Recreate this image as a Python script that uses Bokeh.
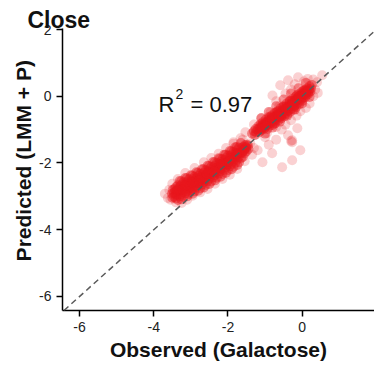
import math
from bokeh.plotting import figure
from bokeh.models import Range1d, FixedTicker, Label, Slope
from bokeh.embed import file_html
from bokeh.resources import INLINE

# ---------------- data ----------------
title_text = "Close"
x_label = "Observed (Galactose)"
y_label = "Predicted (LMM + P)"
r2_value = "0.97"
x_ticks = [-6, -4, -2, 0, 2]
y_ticks = [-6, -4, -2, 0, 2]
tick_text = {-6: "-6", -4: "-4", -2: "-2", 0: "0", 2: "2"}

# lower cluster (observed, predicted)
low_cluster = [
    (-3.50,-3.04),(-3.51,-2.92),(-3.49,-2.81),(-3.45,-3.02),(-3.46,-2.90),(-3.44,-2.78),
    (-3.40,-3.06),(-3.41,-2.94),(-3.39,-2.84),(-3.40,-2.72),
    (-3.35,-3.11),(-3.36,-2.95),(-3.34,-2.81),(-3.35,-2.67),
    (-3.30,-3.00),(-3.31,-2.84),(-3.29,-2.70),(-3.30,-2.54),
    (-3.25,-3.09),(-3.26,-2.93),(-3.24,-2.79),(-3.25,-2.65),(-3.26,-2.55),
    (-3.20,-3.02),(-3.21,-2.86),(-3.19,-2.72),(-3.20,-2.58),
    (-3.15,-2.91),(-3.16,-2.75),(-3.14,-2.61),(-3.15,-2.45),
    (-3.10,-3.00),(-3.11,-2.84),(-3.09,-2.70),(-3.10,-2.56),(-3.11,-2.46),
    (-3.05,-2.93),(-3.06,-2.77),(-3.04,-2.63),(-3.05,-2.49),
    (-3.00,-2.83),(-3.01,-2.67),(-2.99,-2.53),(-3.00,-2.37),
    (-2.95,-2.92),(-2.96,-2.76),(-2.94,-2.62),(-2.95,-2.48),(-2.96,-2.38),
    (-2.90,-2.85),(-2.91,-2.69),(-2.89,-2.55),(-2.90,-2.41),
    (-2.85,-2.74),(-2.86,-2.58),(-2.84,-2.44),(-2.85,-2.28),
    (-2.80,-2.83),(-2.81,-2.67),(-2.79,-2.53),(-2.80,-2.39),(-2.81,-2.29),
    (-2.75,-2.76),(-2.76,-2.60),(-2.74,-2.46),(-2.75,-2.32),
    (-2.70,-2.65),(-2.71,-2.49),(-2.69,-2.35),(-2.70,-2.19),
    (-2.65,-2.73),(-2.66,-2.57),(-2.64,-2.43),(-2.65,-2.29),(-2.66,-2.19),
    (-2.60,-2.66),(-2.61,-2.50),(-2.59,-2.36),(-2.60,-2.22),
    (-2.55,-2.54),(-2.56,-2.38),(-2.54,-2.24),(-2.55,-2.08),
    (-2.50,-2.63),(-2.51,-2.47),(-2.49,-2.33),(-2.50,-2.19),(-2.51,-2.09),
    (-2.45,-2.55),(-2.46,-2.39),(-2.44,-2.25),(-2.45,-2.11),
    (-2.40,-2.43),(-2.41,-2.27),(-2.39,-2.13),(-2.40,-1.97),
    (-2.35,-2.52),(-2.36,-2.36),(-2.34,-2.22),(-2.35,-2.08),(-2.36,-1.98),
    (-2.30,-2.44),(-2.31,-2.28),(-2.29,-2.14),(-2.30,-2.00),
    (-2.25,-2.32),(-2.26,-2.16),(-2.24,-2.02),(-2.25,-1.86),
    (-2.20,-2.41),(-2.21,-2.25),(-2.19,-2.11),(-2.20,-1.97),(-2.21,-1.87),
    (-2.15,-2.33),(-2.16,-2.17),(-2.14,-2.03),(-2.15,-1.89),
    (-2.10,-2.21),(-2.11,-2.05),(-2.09,-1.91),(-2.10,-1.75),
    (-2.05,-2.29),(-2.06,-2.13),(-2.04,-1.99),(-2.05,-1.85),(-2.06,-1.75),
    (-2.00,-2.22),(-2.01,-2.06),(-1.99,-1.92),(-2.00,-1.78),
    (-1.95,-2.10),(-1.96,-1.94),(-1.94,-1.80),(-1.95,-1.64),
    (-1.90,-2.19),(-1.91,-2.03),(-1.89,-1.89),(-1.90,-1.75),(-1.91,-1.65),
    (-1.85,-2.11),(-1.86,-1.95),(-1.84,-1.81),(-1.85,-1.67),
    (-1.80,-1.99),(-1.81,-1.83),(-1.79,-1.69),(-1.80,-1.53),
    (-1.75,-2.06),(-1.76,-1.90),(-1.74,-1.76),(-1.75,-1.62),(-1.76,-1.52),
    (-1.70,-1.98),(-1.71,-1.82),(-1.69,-1.68),(-1.70,-1.54),
    (-1.65,-1.86),(-1.66,-1.70),(-1.64,-1.56),(-1.65,-1.40),
    (-1.60,-1.82),(-1.61,-1.66),(-1.59,-1.52),(-1.55,-1.71),(-1.56,-1.59),(-1.54,-1.47),
    (-1.50,-1.65),(-1.51,-1.55),(-1.49,-1.45),(-1.45,-1.58),(-1.46,-1.48),
    (-3.42,-2.86),(-3.32,-2.78),(-3.22,-2.80),(-3.12,-2.66),(-3.02,-2.70),(-2.92,-2.56),
    (-2.82,-2.60),(-2.72,-2.44),(-2.62,-2.46),(-2.52,-2.28),(-2.42,-2.31),(-2.32,-2.15),
    (-2.22,-2.17),(-2.12,-2.00),(-2.02,-2.02),(-1.92,-1.86),(-1.82,-1.88),(-1.72,-1.70),
    (-1.62,-1.70),(-1.52,-1.52),(-3.37,-2.80),(-3.17,-2.68),(-2.97,-2.58),(-2.77,-2.52),
    (-2.57,-2.32),(-2.37,-2.26),(-2.17,-2.04),(-1.97,-1.96),(-1.77,-1.74),(-1.57,-1.62),
]

# upper cluster (observed, predicted)
high_cluster = [
    (-1.35,-1.12),(-1.30,-1.05),(-1.28,-1.16),(-1.25,-0.98),(-1.24,-1.08),
    (-1.20,-1.00),(-1.18,-0.90),(-1.16,-1.08),(-1.14,-0.94),(-1.12,-0.84),(-1.10,-1.02),
    (-1.08,-0.88),(-1.06,-0.78),(-1.04,-0.98),(-1.02,-0.82),(-1.00,-0.94),(-0.98,-0.70),
    (-0.96,-0.86),(-0.94,-0.98),(-0.92,-0.74),(-0.90,-0.62),(-0.88,-0.88),(-0.86,-0.70),
    (-0.84,-0.80),(-0.82,-0.58),(-0.80,-0.86),(-0.78,-0.64),(-0.76,-0.74),(-0.74,-0.50),
    (-0.72,-0.80),(-0.70,-0.58),(-0.68,-0.68),(-0.66,-0.44),(-0.64,-0.72),(-0.62,-0.52),
    (-0.60,-0.62),(-0.58,-0.36),(-0.56,-0.66),(-0.54,-0.46),(-0.52,-0.56),(-0.50,-0.30),
    (-0.48,-0.60),(-0.46,-0.40),(-0.44,-0.50),(-0.42,-0.22),(-0.40,-0.54),(-0.38,-0.32),
    (-0.36,-0.42),(-0.34,-0.16),(-0.32,-0.46),(-0.30,-0.26),(-0.28,-0.36),(-0.26,-0.08),
    (-0.24,-0.40),(-0.22,-0.18),(-0.20,-0.28),(-0.18,-0.02),(-0.16,-0.32),(-0.14,-0.12),
    (-0.12,-0.20),(-0.10,0.06),(-0.08,-0.24),(-0.06,-0.04),(-0.04,-0.12),(-0.02,0.12),
    (0.00,-0.14),(0.02,0.04),(0.04,-0.04),(0.06,0.18),(0.08,-0.04),(0.10,0.10),
    (0.12,0.04),(0.14,0.24),(0.16,0.06),(0.18,0.18),(0.20,0.30),(0.22,0.14),
    (0.24,0.24),(0.26,0.34),
    (-1.13,-0.98),(-1.07,-0.92),(-1.01,-0.88),(-0.95,-0.80),(-0.89,-0.76),(-0.83,-0.70),
    (-0.77,-0.66),(-0.71,-0.62),(-0.65,-0.54),(-0.59,-0.50),(-0.53,-0.42),(-0.47,-0.38),
    (-0.41,-0.34),(-0.35,-0.26),(-0.29,-0.22),(-0.23,-0.14),(-0.17,-0.10),(-0.11,-0.04),
    (-0.05,0.02),(0.01,0.08),(0.07,0.12),(0.13,0.16),(0.19,0.22),(-1.05,-0.86),
    (-0.97,-0.78),(-0.91,-0.84),(-0.85,-0.74),(-0.79,-0.72),(-0.73,-0.66),(-0.67,-0.58),
    (-0.61,-0.56),(-0.55,-0.52),(-0.49,-0.44),(-0.43,-0.40),(-0.37,-0.34),(-0.31,-0.30),
    (-0.25,-0.20),(-0.19,-0.18),(-0.13,-0.08),(-0.07,-0.06),(-0.01,0.00),(0.05,0.06),
    (0.11,0.14),(0.17,0.12),(-0.87,-0.64),(-0.69,-0.48),(-0.51,-0.32),(-0.33,-0.14),
    (-0.15,0.02),(0.03,0.16),(-0.75,-0.82),(-0.57,-0.60),(-0.39,-0.44),(-0.21,-0.30),
    (-0.03,-0.08),
    (-1.10,-0.66),(-0.90,-0.47),(-0.70,-0.30),(-0.50,-0.10),(-0.30,0.08),(-0.10,0.24),
    (0.10,0.40),
    (-1.00,-1.12),(-0.80,-0.94),(-0.60,-0.76),(-0.40,-0.58),(-0.20,-0.40),(0.00,-0.22),
    (0.20,-0.02),
    (-1.09,-0.96),(-0.93,-0.80),(-0.81,-0.64),(-0.63,-0.46),(-0.45,-0.32),(-0.27,-0.14),
    (-0.09,0.00),(0.09,0.18),(-0.99,-0.90),(-0.63,-0.60),(-0.27,-0.28),(0.09,0.06),
]

# sparse points around the clusters (observed, predicted)
sparse_points = [
    (-3.70,-2.92),(-3.62,-3.05),(-3.58,-2.80),(-3.55,-3.10),(-3.40,-3.18),(-3.50,-2.62),
    (-3.25,-3.20),(-3.10,-3.10),(-3.35,-2.48),(-2.95,-2.98),(-3.15,-2.30),(-2.75,-2.88),
    (-2.90,-2.15),(-2.55,-2.78),(-2.65,-1.98),(-2.35,-2.62),(-2.45,-1.85),(-2.15,-2.48),
    (-2.25,-1.72),(-1.95,-2.35),(-2.05,-1.55),(-1.75,-2.18),(-1.85,-1.42),(-1.55,-1.95),
    (-1.60,-1.30),(-1.35,-1.75),(-1.66,-1.26),(-1.53,-1.08),(-1.40,-1.41),(-1.85,-1.38),
    (-1.30,-1.55),(-1.20,-1.62),(-1.07,-1.98),(-0.81,-1.71),(-0.54,-2.13),(-0.27,-1.92),
    (-0.05,-1.62),(-0.27,-1.32),(-0.27,-1.38),(-0.30,-1.34),(-0.38,-1.17),(-0.13,-0.96),
    (-1.00,-1.23),(-0.90,-1.45),(-0.70,-1.30),
    (-1.30,-0.85),(-1.25,-1.15),(-1.10,-0.65),(-0.95,-1.10),(-0.85,-0.48),(-0.70,-0.92),
    (-0.62,-0.30),(-0.59,0.33),(-0.38,0.48),(-0.11,0.57),(-0.45,0.08),(-0.30,0.20),
    (-0.20,0.36),(0.05,0.45),(0.30,0.50),(0.40,0.42),(0.54,0.63),(0.35,0.20),
    (0.42,0.10),(0.30,0.00),(0.20,-0.22),(0.10,-0.35),(-0.05,-0.45),(-0.15,-0.58),
    (-0.30,-0.72),(-0.45,-0.85),(-0.55,-1.00),(-0.80,0.02),(-0.70,-0.15),(0.15,0.52),
]

core_points = low_cluster + high_cluster
core_obs = [p[0] for p in core_points]
core_pred = [p[1] for p in core_points]
sparse_obs = [p[0] for p in sparse_points]
sparse_pred = [p[1] for p in sparse_points]

# ---------------- figure ----------------
FONT = "Liberation Sans"
p = figure(width=374, height=367, output_backend="svg", toolbar_location=None,
           x_range=Range1d(-6.46, 1.95), y_range=Range1d(-6.42, 2.03),
           min_border_left=62, min_border_right=0, min_border_top=28, min_border_bottom=57)
p.outline_line_color = None
p.background_fill_color = "white"
p.border_fill_color = "white"
p.xgrid.visible = False
p.ygrid.visible = False

p.title.text = title_text
p.title.align = "left"
p.title.offset = -35
p.title.standoff = -8
p.title.text_font = FONT
p.title.text_font_style = "bold"
p.title.text_font_size = "23px"
p.title.text_color = "#111111"

RED = "#e8171c"
p.scatter(x=sparse_obs, y=sparse_pred, size=10, fill_color=RED, fill_alpha=0.2,
          line_color=None)
p.scatter(x=core_obs, y=core_pred, size=10, fill_color=RED, fill_alpha=0.45,
          line_color=None)

p.add_layout(Slope(gradient=1, y_intercept=0, line_color="#5a5a5a", line_width=1.5,
                   line_dash="6 4"))

for ax, ticks in ((p.xaxis[0], x_ticks), (p.yaxis[0], y_ticks)):
    ax.ticker = FixedTicker(ticks=ticks)
    ax.major_label_overrides = tick_text
    ax.minor_tick_line_color = None
    ax.major_tick_in = 0
    ax.major_tick_out = 6
    ax.axis_line_width = 1.5
    ax.major_tick_line_width = 1.5
    ax.axis_line_color = "black"
    ax.major_tick_line_color = "black"
    ax.major_label_text_font = FONT
    ax.major_label_text_font_size = "14px"
    ax.major_label_text_color = "#222222"
    ax.major_label_standoff = 5
    ax.axis_label_text_font = FONT
    ax.axis_label_text_font_style = "bold"
    ax.axis_label_text_font_size = "21px"
    ax.axis_label_text_color = "#111111"

p.xaxis[0].axis_label = x_label
p.xaxis[0].axis_label_standoff = 3
p.yaxis[0].axis_label = "\u00a0\u00a0\u00a0" + y_label
p.yaxis[0].axis_label_standoff = 1

# R^2 annotation
p.add_layout(Label(x=-3.872, y=-0.247, text="R", text_align="left",
                   text_baseline="alphabetic", text_font=FONT, text_font_size="22px",
                   text_color="#111111"))
p.add_layout(Label(x=-3.414, y=0.082, text="2", text_align="left",
                   text_baseline="alphabetic", text_font=FONT, text_font_size="14px",
                   text_color="#111111"))
p.add_layout(Label(x=-3.010, y=-0.247, text="= " + r2_value, text_align="left",
                   text_baseline="alphabetic", text_font=FONT, text_font_size="22px",
                   text_color="#111111"))

open("out.html", "w").write(file_html(p, INLINE))
